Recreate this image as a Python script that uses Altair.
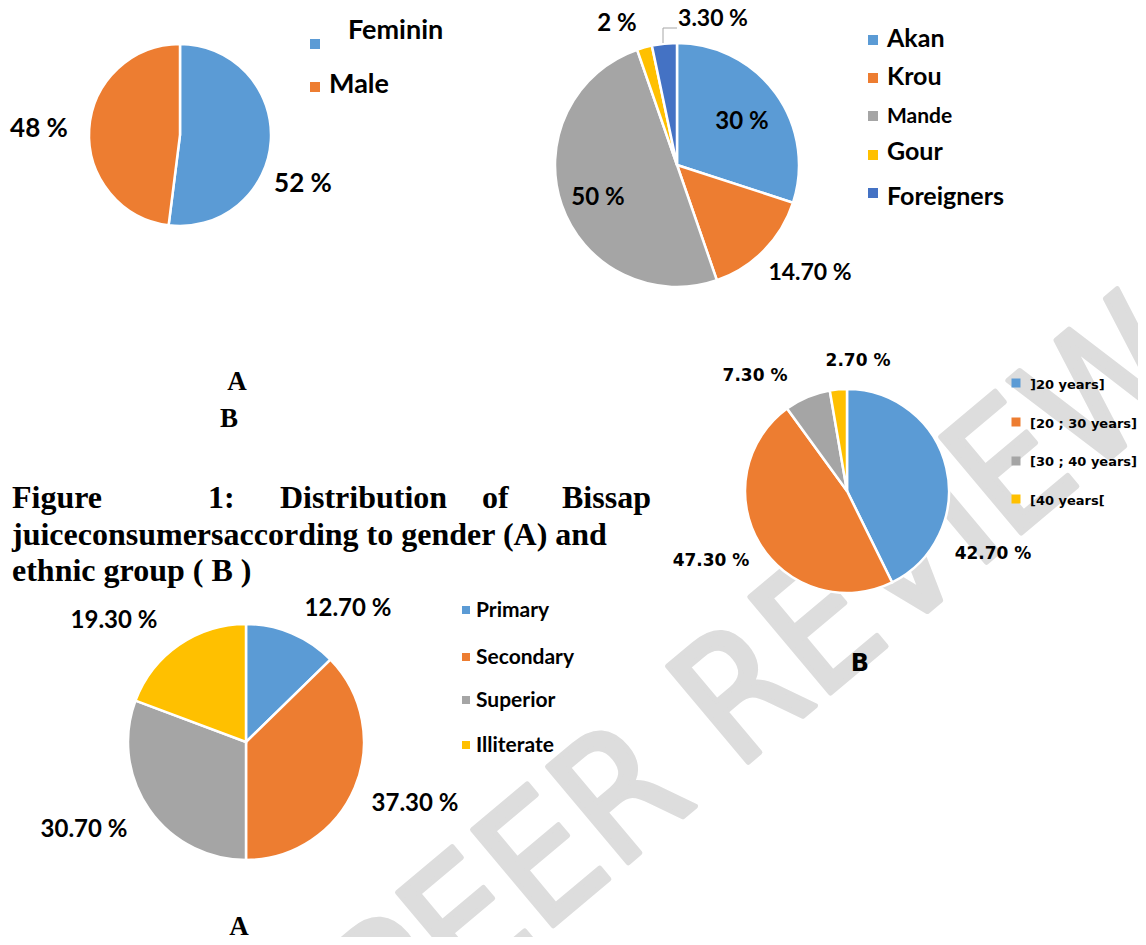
import altair as alt
import pandas as pd

# ---------------- data ----------------
gender_cats = ["Feminin", "Male"]
gender_vals = [52, 48]
gender_labels = ["52 %", "48 %"]

ethnic_cats = ["Akan", "Krou", "Mande", "Gour", "Foreigners"]
ethnic_vals = [30, 14.7, 50, 2, 3.3]
ethnic_labels = ["30 %", "14.70 %", "50 %", "2 %", "3.30 %"]

age_cats = ["]20 years]", "[20 ; 30 years]", "[30 ; 40 years]", "[40 years["]
age_vals = [42.7, 47.3, 7.3, 2.7]
age_labels = ["42.70 %", "47.30 %", "7.30 %", "2.70 %"]

edu_cats = ["Primary", "Secondary", "Superior", "Illiterate"]
edu_vals = [12.7, 37.3, 30.7, 19.3]
edu_labels = ["12.70 %", "37.30 %", "30.70 %", "19.30 %"]

caption_line1 = ["Figure", "1:", "Distribution", "of", "Bissap"]
caption_line2 = "juiceconsumersaccording to gender (A) and"
caption_line3 = "ethnic group ( B )"
watermark = "PEER REVIEW"

colors = ["#5B9BD5", "#ED7D31", "#A5A5A5", "#FFC000", "#4472C4"]

# ---------------- layout ----------------
OFF = 8
W, H = 1130, 929
CAL = "Lato, Carlito, 'Open Sans', sans-serif"
VER = "'DejaVu Sans', Verdana, sans-serif"
TNR = "'Liberation Serif', 'Times New Roman', serif"


def pie(cats, vals, cx, cy, r):
    df = pd.DataFrame({"cat": cats, "val": vals, "idx": list(range(len(cats)))})
    return alt.Chart(df).mark_arc(outerRadius=r, stroke="white", strokeWidth=2.5).encode(
        theta=alt.Theta("val:Q", stack=True),
        order=alt.Order("idx:Q"),
        color=alt.Color("cat:N", scale=alt.Scale(domain=cats, range=colors[:len(cats)]), legend=None),
        x=alt.value(cx - OFF),
        y=alt.value(cy - OFF),
    )


def texts(ts, xs, ys, font, size, align="center", weight="bold", sizes=None, color="black"):
    df = pd.DataFrame({"t": ts, "px": [x - OFF for x in xs], "py": [y - OFF for y in ys]})
    enc = dict(
        x=alt.X("px:Q", scale=None, axis=None),
        y=alt.Y("py:Q", scale=None, axis=None),
        text="t:N",
    )
    if sizes is not None:
        df["fs"] = sizes
        enc["size"] = alt.Size("fs:Q", scale=None, legend=None)
    return alt.Chart(df).mark_text(
        font=font, fontSize=size, fontWeight=weight, align=align,
        baseline="alphabetic", color=color
    ).encode(**enc)


def squares(n, xs, ys, side):
    df = pd.DataFrame({"px": [x - OFF for x in xs], "py": [y - OFF for y in ys],
                       "c": colors[:n]})
    return alt.Chart(df).mark_square(size=side * side, filled=True, opacity=1).encode(
        x=alt.X("px:Q", scale=None, axis=None),
        y=alt.Y("py:Q", scale=None, axis=None),
        color=alt.Color("c:N", scale=None, legend=None),
    )


layers = []

# watermark (behind everything)
wm = pd.DataFrame({"t": [watermark]})
layers.append(
    alt.Chart(wm).mark_text(
        font="'DejaVu Sans Condensed', 'Liberation Sans Narrow', 'DejaVu Sans', sans-serif",
        fontSize=172, fontWeight="normal", angle=320, align="center", baseline="middle",
        color="#dddddd", stroke="#dddddd", strokeWidth=5, strokeJoin="round"
    ).encode(text="t:N", x=alt.value(765 - OFF), y=alt.value(680 - OFF))
)

# --- pie 1: gender
layers.append(pie(gender_cats, gender_vals, 180, 135, 91))
layers.append(texts(gender_labels, [303, 39], [192, 137], CAL, 26))
layers.append(squares(2, [315, 315], [44, 87], 10))
layers.append(texts(gender_cats, [348, 329], [39, 93], CAL, 27, align="left"))

# --- pie 2: ethnic group
layers.append(pie(ethnic_cats, ethnic_vals, 677, 165, 122))
layers.append(texts(ethnic_labels, [742, 810, 598, 617, 713], [129, 280, 205, 31, 26], CAL, 23,
                    sizes=[24, 23, 24, 24, 23]))
lead = pd.DataFrame({"px": [663 - OFF, 663 - OFF, 677 - OFF], "py": [43 - OFF, 28 - OFF, 28 - OFF],
                     "o": [0, 1, 2]})
layers.append(alt.Chart(lead).mark_line(color="#A6A6A6", strokeWidth=1).encode(
    x=alt.X("px:Q", scale=None, axis=None), y=alt.Y("py:Q", scale=None, axis=None),
    order="o:Q"))
layers.append(squares(5, [873] * 5, [40, 78, 116, 155, 193], 10))
layers.append(texts(ethnic_cats, [887] * 5, [47, 85, 123, 160, 205], CAL, 25, align="left",
                    sizes=[25, 25, 21, 25, 25]))

# --- pie 3: age
layers.append(pie(age_cats, age_vals, 847, 491, 102))
layers.append(texts(age_labels, [993, 711, 755, 858], [559, 566, 381, 366], VER, 17))
layers.append(squares(4, [1016] * 4, [383, 422, 461, 499], 9))
layers.append(texts(age_cats, [1030] * 4, [389, 428, 466, 505], VER, 13, align="left"))
layers.append(texts(["B"], [860], [671], VER, 24))

# --- pie 4: education
layers.append(pie(edu_cats, edu_vals, 246, 742, 118))
layers.append(texts(edu_labels, [348, 415, 84, 114], [616, 811, 837, 628], CAL, 24))
layers.append(squares(4, [466] * 4, [610, 657, 700, 745], 8))
layers.append(texts(edu_cats, [476] * 4, [617, 664, 707, 752], CAL, 21, align="left"))
layers.append(texts(["A"], [239], [935], TNR, 27))

# --- caption block
layers.append(texts(["A", "B"], [237, 229], [390, 427], TNR, 27))
layers.append(texts(caption_line1, [12, 208, 280, 482, 562], [508] * 5, TNR, 32, align="left"))
layers.append(texts([caption_line2, caption_line3], [12, 12], [545, 581], TNR, 32, align="left"))

chart = alt.layer(*layers).resolve_scale(
    color="independent", theta="independent"
).properties(
    width=W, height=H, padding=0, autosize=alt.AutoSizeParams(type="none")
).configure_view(stroke=None)

chart.save("out.html", embed_options={"renderer": "svg", "actions": False})
